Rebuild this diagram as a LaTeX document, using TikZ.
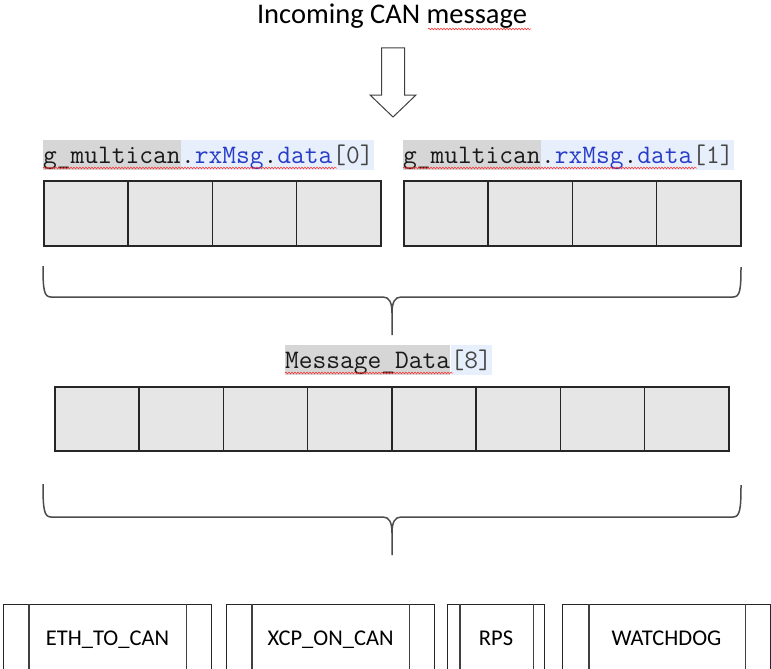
\documentclass[tikz,border=0pt]{standalone}
\usepackage{fontspec}
\setmainfont{Carlito}
\usetikzlibrary{decorations.pathmorphing}
\definecolor{codeblue}{RGB}{40,60,200}
\definecolor{codegray}{RGB}{70,70,70}
\definecolor{hlgray}{RGB}{214,214,214}
\definecolor{hlblue}{RGB}{230,239,251}
\definecolor{cellfill}{RGB}{230,230,230}
\tikzset{
  cellbox/.style={draw=black!85, line width=1.5pt, fill=cellfill, minimum width=84.25pt, minimum height=65pt, inner sep=0pt, anchor=north west},
  codelab/.style={font=\ttfamily\fontsize{26.7}{30}\selectfont, inner sep=0pt, text height=23pt, text depth=7pt, anchor=base west},
  hlg/.style={codelab, fill=hlgray, text=black!90},
  hlb/.style={codelab, fill=hlblue, text=black!90},
  squig/.style={draw=red!85, line width=0.5pt, decorate, decoration={snake, amplitude=0.9pt, segment length=3pt}},
  bracepath/.style={draw=black!70, line width=1.5pt, line join=round},
  modbox/.style={draw=black!85, line width=1.1pt, minimum height=68pt, inner sep=0pt, anchor=north west, font=\fontsize{22.5}{27}\selectfont, text height=14pt, text depth=0pt},
  innerline/.style={draw=black!75, line width=1.1pt},
  blockarrow/.style={draw=black!75, line width=1pt, fill=white, line join=miter}
}
\begin{document}
\begin{tikzpicture}[x=1pt,y=-1pt]
\useasboundingbox (0,0) rectangle (771,669);
\clip (0,0) rectangle (771,669);
\fill[white] (0,0) rectangle (771,669);

% title
\node[font=\fontsize{28.5}{34}\selectfont, inner sep=0pt, anchor=base] (title) at (392,24) {Incoming CAN message};
\draw[squig] (428,29) -- (531,29);

% block arrow
\draw[blockarrow] (381.5,48) -- (404.5,48) -- (404.5,95) -- (416,95) -- (393,117) -- (370,95) -- (381.5,95) -- cycle;

% labels row 1
\node[hlg] (l0g) at (43,163) {g\_multican};
\node[hlb] (l0b) at (l0g.base east) {.\textcolor{codeblue}{rxMsg}.\textcolor{codeblue}{data}\textcolor{codegray}{[0]}};
\draw[squig] (43,168) -- (337,168);
\node[hlg] (l1g) at (403,163) {g\_multican};
\node[hlb] (l1b) at (l1g.base east) {.\textcolor{codeblue}{rxMsg}.\textcolor{codeblue}{data}\textcolor{codegray}{[1]}};
\draw[squig] (403,168) -- (697,168);

% row 1 cells
\foreach \i in {0,...,3} {
  \node[cellbox] (a\i) at ({43+84.25*\i},180) {};
  \node[cellbox] (b\i) at ({403+84.25*\i},180) {};
}

% brace 1
\draw[bracepath] (43,266) .. controls (43,290) and (44,297) .. (51,297) -- (383,297)
  .. controls (389,297) and (392,302) .. (392,313) -- (392,335);
\draw[bracepath] (392,313) .. controls (392,302) and (395,297) .. (401,297) -- (733,297)
  .. controls (740,297) and (741,290) .. (741,267);

% label row 2
\node[hlg] (mdg) at (285,368) {Message\_Data};
\node[hlb] (mdb) at (mdg.base east) {\textcolor{codegray}{[8]}};
\draw[squig] (285,373) -- (453,373);

% row 2 cells
\foreach \i in {0,...,7} {
  \node[cellbox, minimum height=64pt] (m\i) at ({54+84.25*\i},386) {};
}

% brace 2
\draw[bracepath] (43,484) .. controls (43,509) and (44,517) .. (51,517) -- (383,517)
  .. controls (389,517) and (392,522) .. (392,533) -- (392,555);
\draw[bracepath] (392,533) .. controls (392,522) and (395,517) .. (401,517) -- (733,517)
  .. controls (740,517) and (741,509) .. (741,485);

% bottom module boxes
\node[modbox, minimum width=208pt] (eth) at (3,604) {ETH\_TO\_CAN};
\node[modbox, minimum width=208pt] (xcp) at (226,604) {XCP\_ON\_CAN};
\node[modbox, minimum width=97pt] (rps) at (447,604) {RPS};
\node[modbox, minimum width=208pt] (wdg) at (562,604) {WATCHDOG};

\draw[innerline] ([xshift=26pt]eth.north west) -- ([xshift=26pt]eth.south west);
\draw[innerline] ([xshift=-26pt]eth.north east) -- ([xshift=-26pt]eth.south east);
\draw[innerline] ([xshift=26pt]xcp.north west) -- ([xshift=26pt]xcp.south west);
\draw[innerline] ([xshift=-26pt]xcp.north east) -- ([xshift=-26pt]xcp.south east);
\draw[innerline] ([xshift=13pt]rps.north west) -- ([xshift=13pt]rps.south west);
\draw[innerline] ([xshift=-12pt]rps.north east) -- ([xshift=-12pt]rps.south east);
\draw[innerline] ([xshift=27pt]wdg.north west) -- ([xshift=27pt]wdg.south west);
\draw[innerline] ([xshift=-26pt]wdg.north east) -- ([xshift=-26pt]wdg.south east);
\end{tikzpicture}
\end{document}
